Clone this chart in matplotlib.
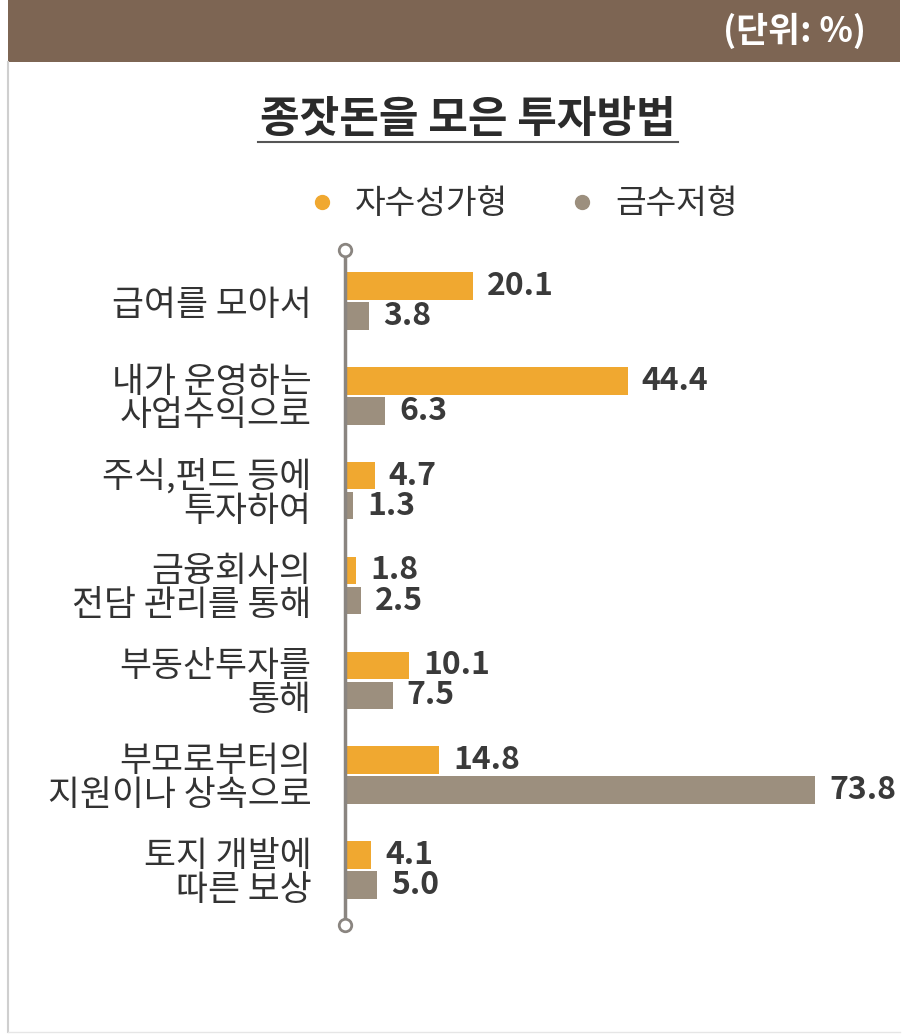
import numpy as np
import matplotlib.pyplot as plt
from matplotlib.lines import Line2D
from matplotlib.patches import Rectangle

plt.rcParams['font.family'] = ['Noto Sans CJK KR', 'DejaVu Sans']

categories = ['급여를 모아서', '내가 운영하는\n사업수익으로', '주식,펀드 등에\n투자하여',
              '금융회사의\n전담 관리를 통해', '부동산투자를\n통해', '부모로부터의\n지원이나 상속으로',
              '토지 개발에\n따른 보상']
self_made = [20.1, 44.4, 4.7, 1.8, 10.1, 14.8, 4.1]
inherited = [3.8, 6.3, 1.3, 2.5, 7.5, 73.8, 5.0]
series_names = ['자수성가형', '금수저형']

orange = '#F0A830'
gray = '#9C8F7E'
brown = '#7D6553'
txt = '#333333'

W, H = 918, 1036
fig = plt.figure(figsize=(W / 100, H / 100), dpi=100)

# header band and frame
fig.add_artist(Rectangle((8 / W, 1 - 62 / H), 892 / W, 62 / H, transform=fig.transFigure,
                         color=brown, lw=0))
fig.add_artist(Line2D([8 / W, 8 / W], [1 - 62 / H, 4 / H], transform=fig.transFigure,
                      color='#cfcfcf', lw=1.5))
fig.add_artist(Line2D([8 / W, 900 / W], [4 / H, 4 / H], transform=fig.transFigure,
                      color='#e6e6e6', lw=1))
fig.text(866 / W, 1 - 31 / H, '(단위: %)', color='white', fontsize=25, fontweight='bold',
         ha='right', va='center')

# title with underline
fig.text(468 / W, 1 - 119 / H, '종잣돈을 모은 투자방법', color='#2b2b2b', fontsize=31,
         fontweight='bold', ha='center', va='center')
fig.add_artist(Line2D([258 / W, 678 / W], [1 - 142 / H, 1 - 142 / H], transform=fig.transFigure,
                      color='#555555', lw=1.5))

# axes placed so that the axis line sits at x=345 px
x0 = 345
scale = 6.37
ax = fig.add_axes([x0 / W, 1 - 925 / H, (900 - x0) / W, (925 - 250) / H])
ax.set_xlim(0, (900 - x0) / scale)
ax.set_ylim(6 + 55 / 94.8, -51 / 94.8)

y = np.arange(len(categories))
off = 15 / 94.8
h = 0.29
b1 = ax.barh(y - off, self_made, height=h, color=orange)
b2 = ax.barh(y + off, inherited, height=h, color=gray)

for bars, vals in [(b1, self_made), (b2, inherited)]:
    for bar, v in zip(bars, vals):
        ax.annotate(f'{v:.1f}', (bar.get_width(), bar.get_y() + bar.get_height() / 2),
                    xytext=(10, 0), textcoords='offset points', va='center', ha='left',
                    fontsize=23, fontweight='bold', color='#3a3a3a')

for s in ['top', 'right', 'bottom']:
    ax.spines[s].set_visible(False)
ax.spines['left'].set_color('#8a8580')
ax.spines['left'].set_linewidth(2.5)
ax.set_xticks([])
ax.set_yticks(y)
ax.set_yticklabels(categories, fontsize=25, color=txt, linespacing=0.95)
ax.tick_params(axis='y', length=0, pad=24)

ylo, yhi = ax.get_ylim()
ax.plot([0, 0], [ylo, yhi], 'o', ms=9, mfc='white', mec='#8a8580', mew=2, clip_on=False, zorder=5)

# legend
handles = [Line2D([], [], ls='', marker='o', ms=10, color=orange),
           Line2D([], [], ls='', marker='o', ms=10, color=gray)]
fig.legend(handles, series_names, loc='center', bbox_to_anchor=(518 / W, 1 - 204 / H), ncol=2,
           frameon=False, handletextpad=0.3, columnspacing=1.5, handlelength=1.4,
           labelcolor=txt, prop={'size': 24})

fig.savefig('out.png', dpi=100)
